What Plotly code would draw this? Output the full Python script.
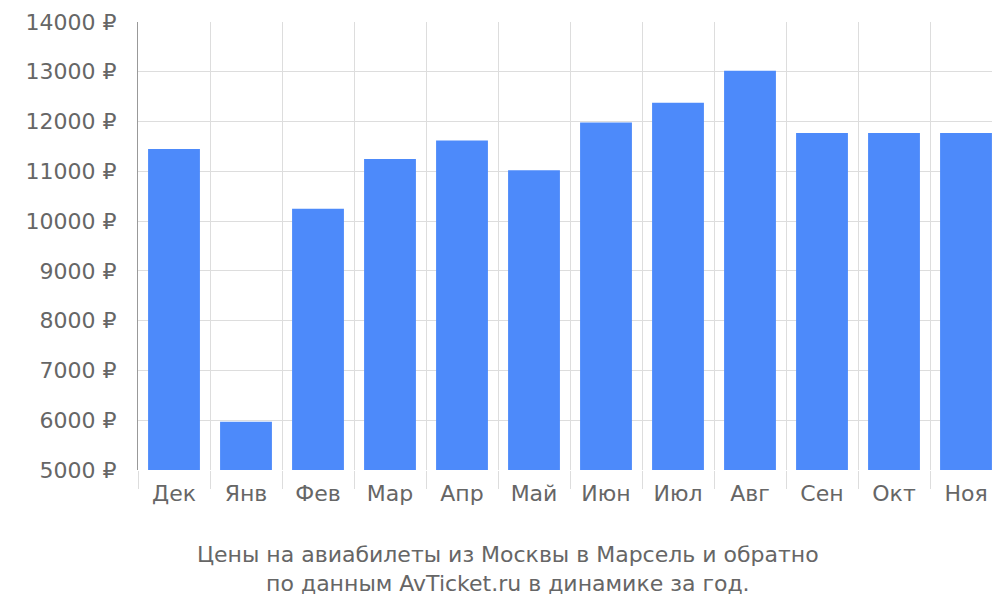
import plotly.graph_objects as go

months = ["Дек","Янв","Фев","Мар","Апр","Май","Июн","Июл","Авг","Сен","Окт","Ноя"]
prices = [11450, 5970, 10250, 11250, 11620, 11020, 11980, 12380, 13020, 11770, 11770, 11770]

fig = go.Figure(go.Bar(x=months, y=prices, marker_color="#4d8afa", marker_line_width=0))
fig.update_layout(
    width=1000, height=600, paper_bgcolor="white", plot_bgcolor="white",
    margin=dict(l=130, r=6, t=14, b=138), bargap=0.28, showlegend=False,
    font=dict(family="DejaVu Sans", size=22, color="#666"),
    xaxis=dict(tickson="boundaries", ticks="outside", ticklen=18, tickcolor="#ddd",
               showgrid=True, gridcolor="#ddd", ticklabelstandoff=8, automargin=False,
               tickfont=dict(size=22, color="#666")),
    yaxis=dict(range=[5000, 14000], dtick=1000, ticksuffix=" ₽", tickformat="d",
               showgrid=True, gridcolor="#ddd", showline=True, linecolor="#999", ticks="",
               ticklabelstandoff=16, automargin=False,
               tickfont=dict(size=22, color="#666"), zeroline=False),
    annotations=[dict(text="Цены на авиабилеты из Москвы в Марсель и обратно<br>по данным AvTicket.ru в динамике за год.",
                      x=(500-130)/864, xref="paper", y=532, yref="paper", yanchor="top", showarrow=False,
                      font=dict(size=22, color="#666"))],
)
fig.layout.annotations[0].y = (600-138-532)/448
fig.write_html("out.html")
